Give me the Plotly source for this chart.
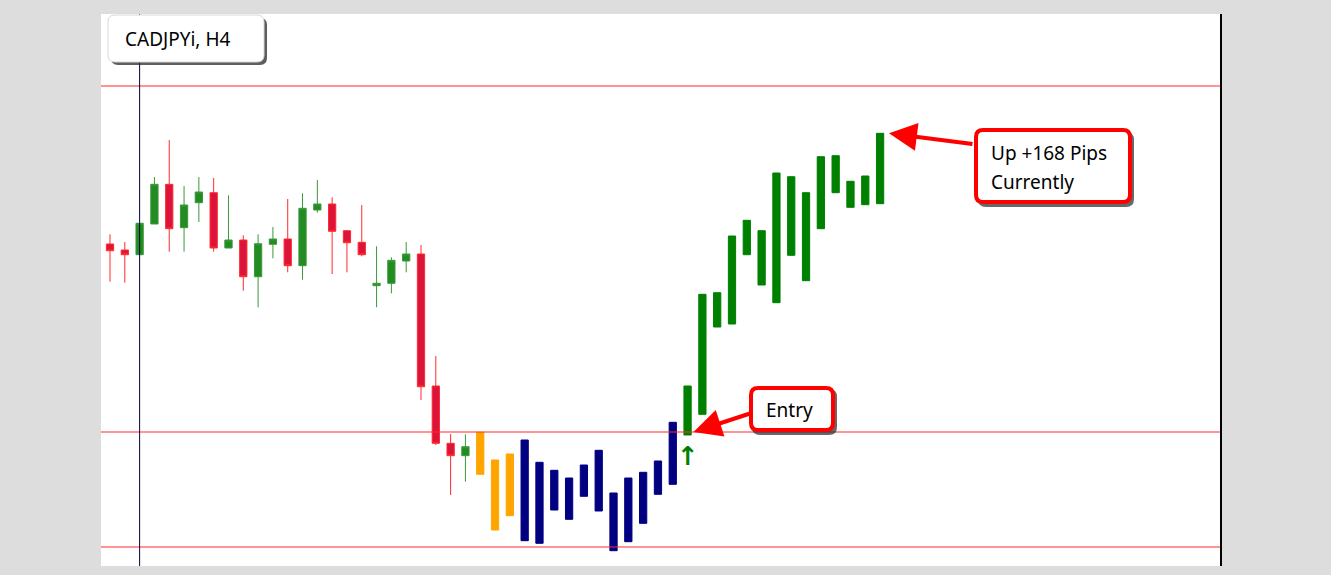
import plotly.graph_objects as go

# ---------------- data (CADJPYi, H4) ----------------
# regular candles
c_idx = list(range(0, 25))
c_open = [87.560, 87.500, 87.453, 87.760, 88.157, 87.723, 87.973, 88.073, 87.520, 87.600,
          87.233, 87.557, 87.610, 87.343, 87.900, 87.960, 87.693, 87.577, 87.143, 87.167,
          87.390, 87.460, 86.140, 85.567, 85.443]
c_high = [87.657, 87.580, 87.767, 88.230, 88.600, 88.140, 88.230, 88.220, 88.047, 87.647,
          87.657, 87.730, 88.010, 88.067, 88.200, 88.027, 87.700, 87.950, 87.537, 87.427,
          87.580, 87.550, 86.440, 85.660, 85.657]
c_low = [87.183, 87.173, 87.453, 87.760, 87.483, 87.483, 87.780, 87.483, 87.520, 87.093,
         86.927, 87.417, 87.277, 87.203, 87.873, 87.260, 87.277, 87.437, 86.927, 87.067,
         87.277, 86.000, 85.550, 85.050, 85.183]
c_close = [87.493, 87.453, 87.767, 88.157, 87.713, 87.950, 88.080, 87.520, 87.600, 87.233,
           87.563, 87.610, 87.343, 87.917, 87.960, 87.687, 87.573, 87.453, 87.167, 87.397,
           87.460, 86.133, 85.567, 85.443, 85.533]

# signal bars (orange = warning, navy = bottoming, green = long trend)
o_idx = [25, 26, 27]
o_open = [85.677, 85.400, 85.460]
o_close = [85.257, 84.700, 84.843]

n_idx = list(range(28, 39))
n_open = [85.600, 85.377, 85.297, 85.220, 85.350, 85.497, 85.070, 85.220, 85.277, 85.390, 85.777]
n_close = [84.593, 84.567, 84.900, 84.807, 85.037, 84.890, 84.493, 84.583, 84.767, 85.057, 85.157]

g_idx = list(range(39, 53))
g_open = [85.650, 85.857, 86.730, 86.760, 87.453, 87.150, 86.973, 87.447, 87.193, 87.713,
          88.073, 87.927, 87.953, 87.963]
g_close = [86.140, 87.057, 87.073, 87.640, 87.797, 87.693, 88.270, 88.233, 88.073, 88.433,
           88.443, 88.187, 88.240, 88.667]

levels = [89.14, 85.68, 84.53]
symbol_label = "CADJPYi, H4"
entry_label = "Entry"
pips_lines = ["Up +168 Pips", "Currently"]
entry_bar = 39

# ---------------- figure ----------------
W, H = 1331, 575
ML, MR, MT, MB = 101, 110, 14, 9
PW, PH = W - ML - MR, H - MT - MB


def px(x):
    return (x - ML) / PW


def py(y):
    return (H - MB - y) / PH


def rrect(x0, y0, x1, y1, r):
    rx, ry = r / PW, r / PH
    X0, X1 = px(x0), px(x1)
    Y0, Y1 = py(y0), py(y1)  # Y0 top (larger), Y1 bottom
    return (f"M {X0+rx},{Y0} L {X1-rx},{Y0} Q {X1},{Y0} {X1},{Y0-ry} "
            f"L {X1},{Y1+ry} Q {X1},{Y1} {X1-rx},{Y1} L {X0+rx},{Y1} "
            f"Q {X0},{Y1} {X0},{Y1+ry} L {X0},{Y0-ry} Q {X0},{Y0} {X0+rx},{Y0} Z")


fig = go.Figure()

fig.add_trace(go.Candlestick(
    x=c_idx, open=c_open, high=c_high, low=c_low, close=c_close,
    increasing=dict(fillcolor="#228b22", line=dict(color="#3a983a", width=1)),
    decreasing=dict(fillcolor="#dc143c", line=dict(color="#ff2a2a", width=1)),
    whiskerwidth=0, hoverinfo="skip", showlegend=False))


def sig_trace(idx, op, cl, color):
    hi = [max(a, b) for a, b in zip(op, cl)]
    lo = [min(a, b) for a, b in zip(op, cl)]
    return go.Candlestick(
        x=idx, open=op, high=hi, low=lo, close=cl,
        increasing=dict(fillcolor=color, line=dict(color=color, width=1)),
        decreasing=dict(fillcolor=color, line=dict(color=color, width=1)),
        whiskerwidth=0, hoverinfo="skip", showlegend=False)


fig.add_trace(sig_trace(o_idx, o_open, o_close, "#ffa500"))
fig.add_trace(sig_trace(n_idx, n_open, n_close, "#000080"))
fig.add_trace(sig_trace(g_idx, g_open, g_close, "#008000"))

shapes = []
for lv in levels:
    shapes.append(dict(type="line", xref="paper", x0=0, x1=1, yref="y", y0=lv, y1=lv,
                       line=dict(color="#ff2a2a", width=1.2)))
shapes.append(dict(type="line", xref="x", x0=2, x1=2, yref="paper", y0=0, y1=1,
                   line=dict(color="#00003a", width=1)))
shapes.append(dict(type="line", xref="paper", x0=1, x1=1, yref="paper", y0=0, y1=1,
                   line=dict(color="#000000", width=2)))

# label box
shapes.append(dict(type="path", xref="paper", yref="paper", path=rrect(111, 18, 267, 65, 7),
                   fillcolor="rgba(40,40,40,0.75)", line=dict(width=0)))
shapes.append(dict(type="path", xref="paper", yref="paper", path=rrect(108, 15, 264, 62, 7),
                   fillcolor="#ffffff", line=dict(color="#d8d8d8", width=1)))
# entry box
shapes.append(dict(type="path", xref="paper", yref="paper", path=rrect(752, 389, 837, 435, 8),
                   fillcolor="rgba(40,40,40,0.7)", line=dict(width=0)))
shapes.append(dict(type="path", xref="paper", yref="paper", path=rrect(751, 388, 833, 430, 7),
                   fillcolor="#ffffff", line=dict(color="#ff0000", width=4)))
# pips box
shapes.append(dict(type="path", xref="paper", yref="paper", path=rrect(978, 132, 1134, 207, 8),
                   fillcolor="rgba(40,40,40,0.7)", line=dict(width=0)))
shapes.append(dict(type="path", xref="paper", yref="paper", path=rrect(976, 130, 1130, 202, 7),
                   fillcolor="#ffffff", line=dict(color="#ff0000", width=4)))

font = "Noto Sans"
annotations = [
    dict(xref="paper", yref="paper", x=px(123), y=py(39), text=symbol_label, showarrow=False,
         xanchor="left", yanchor="middle", font=dict(family=font, size=19, color="#000000")),
    dict(xref="paper", yref="paper", x=px(789), y=py(410), text=entry_label, showarrow=False,
         xanchor="center", yanchor="middle", font=dict(family=font, size=19, color="#000000")),
    dict(xref="paper", yref="paper", x=px(989), y=py(153), text=pips_lines[0], showarrow=False,
         xanchor="left", yanchor="middle", font=dict(family=font, size=19, color="#000000")),
    dict(xref="paper", yref="paper", x=px(989), y=py(182), text=pips_lines[1], showarrow=False,
         xanchor="left", yanchor="middle", font=dict(family=font, size=19, color="#000000")),
    # arrows
    dict(xref="x", yref="y", x=entry_bar + 0.4, y=levels[1], ax=58, ay=-19, text="",
         showarrow=True, arrowhead=2, arrowsize=1.4, arrowwidth=4, arrowcolor="#ff0000",
         standoff=0, startstandoff=0),
    dict(xref="x", yref="y", x=g_idx[-1] + 0.6, y=g_close[-1], ax=85, ay=11, text="",
         showarrow=True, arrowhead=2, arrowsize=1.4, arrowwidth=4, arrowcolor="#ff0000",
         standoff=0, startstandoff=0),
    # buy signal arrow
    dict(xref="x", yref="paper", x=entry_bar, y=py(456), text="<b>↑</b>", showarrow=False,
         xanchor="center", yanchor="middle", font=dict(family="DejaVu Sans", size=26, color="#008000")),
]

fig.update_layout(
    width=W, height=H,
    margin=dict(l=ML, r=MR, t=MT, b=MB, pad=0),
    paper_bgcolor="#dddddd", plot_bgcolor="#ffffff",
    showlegend=False,
    xaxis=dict(range=[-0.608, 75.02], visible=False, rangeslider=dict(visible=False), fixedrange=True),
    yaxis=dict(range=[84.34, 89.86], visible=False, fixedrange=True),
    shapes=shapes, annotations=annotations,
)

fig.write_html(
    "out.html",
    config=dict(displayModeBar=False),
    post_script="document.body.style.margin='0';document.body.style.overflow='hidden';"
                "document.body.style.background='#dddddd';",
)
